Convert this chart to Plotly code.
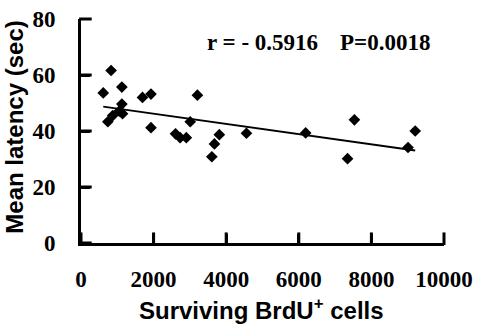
import plotly.graph_objects as go

# Data
cells = [613, 829, 739, 874, 1054, 1144, 1126, 1126, 1694, 1928, 1928, 2604, 2730, 2901,
         3009, 3207, 3604, 3676, 3811, 4558, 6189, 7532, 7343, 9009, 9207]
latency = [53.6, 61.6, 43.3, 45.5, 47.1, 46.2, 55.7, 49.6, 52.0, 53.2, 41.2, 39.0, 37.6, 37.6,
           43.3, 52.8, 30.8, 35.4, 38.7, 39.2, 39.3, 44.0, 30.1, 34.1, 40.0]

fit_slope = -0.001823
fit_intercept = 49.82
fit_x = [min(cells), max(cells)]
fit_y = [fit_intercept + fit_slope * v for v in fit_x]

x_ticks = [0, 2000, 4000, 6000, 8000, 10000]
y_ticks = [0, 20, 40, 60, 80]
x_range = [x_ticks[0], x_ticks[-1]]
y_range = [y_ticks[0], y_ticks[-1]]

serif = "Liberation Serif, Times New Roman, serif"
sans = "Liberation Sans, Arial, sans-serif"

W, H = 480, 331
ML, MR, MT, MB = 81, 28, 7, 88
pw, ph = W - ML - MR, H - MT - MB
tick_len = 9  # px, inside ticks

fig = go.Figure()
fig.add_trace(go.Scatter(x=fit_x, y=fit_y, mode="lines",
                         line=dict(color="black", width=2), hoverinfo="skip"))
fig.add_trace(go.Scatter(x=cells, y=latency, mode="markers",
                         marker=dict(symbol="diamond", size=9, color="black")))

# inside tick marks drawn as short line markers at the tick values
x_tick_y = y_range[0] + (tick_len / 2) * (y_range[1] - y_range[0]) / ph
y_tick_x = x_range[0] + (tick_len / 2) * (x_range[1] - x_range[0]) / pw
fig.add_trace(go.Scatter(x=x_ticks, y=[x_tick_y] * len(x_ticks), mode="markers",
                         cliponaxis=False, hoverinfo="skip",
                         marker=dict(symbol="line-ns", size=tick_len,
                                     line=dict(color="black", width=3))))
fig.add_trace(go.Scatter(x=[y_tick_x] * len(y_ticks), y=y_ticks, mode="markers",
                         cliponaxis=False, hoverinfo="skip",
                         marker=dict(symbol="line-ew", size=tick_len,
                                     line=dict(color="black", width=3))))

axis_common = dict(showgrid=False, zeroline=False, showline=True, linecolor="black", linewidth=3,
                   ticks="inside", ticklen=tick_len, tickwidth=3, tickcolor="black",
                   ticklabeloverflow="allow",
                   tickfont=dict(family=serif, size=23, color="black", weight="bold"))

fig.update_layout(
    width=W, height=H,
    margin=dict(l=ML, r=MR, t=MT, b=MB),
    paper_bgcolor="white", plot_bgcolor="white",
    showlegend=False,
    xaxis=dict(range=x_range, tickvals=x_ticks, ticktext=[str(v) for v in x_ticks],
               ticklabelstandoff=13, **axis_common),
    yaxis=dict(range=y_range, tickvals=y_ticks, ticktext=[str(v) for v in y_ticks],
               ticklabelstandoff=18, **axis_common),
)

def px_to_paper(px, py):
    return (px - ML) / pw, (H - MB - py) / ph

ann_specs = [
    ("r = - 0.5916", (267, 32), serif, 23, 0),
    ("P=0.0018", (392, 32), serif, 23, 0),
    ("Surviving BrdU<sup>+</sup> cells", (265, 313), sans, 24, 0),
    ("Mean latency (sec)", (13, 121), sans, 24, -90),
]
for text, (px, py), fam, size, ang in ann_specs:
    ax, ay = px_to_paper(px, py)
    fig.add_annotation(text=text, x=ax, y=ay, xref="paper", yref="paper",
                       xanchor="center", yanchor="middle", showarrow=False, textangle=ang,
                       font=dict(family=fam, size=size, color="black", weight="bold"))

fig.write_html("out.html")
